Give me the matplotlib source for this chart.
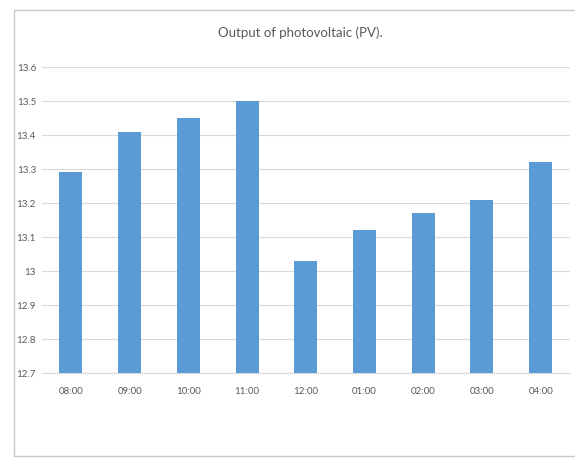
import matplotlib.pyplot as plt
from matplotlib.patches import Rectangle

# ---------------- PV output per hour ----------------
hours = ['08:00', '09:00', '10:00', '11:00', '12:00', '01:00', '02:00', '03:00', '04:00']
pv_output = [13.29, 13.41, 13.45, 13.50, 13.03, 13.12, 13.17, 13.21, 13.32]
y_ticks = [12.7, 12.8, 12.9, 13.0, 13.1, 13.2, 13.3, 13.4, 13.5, 13.6]
y_tick_labels = ['12.7', '12.8', '12.9', '13', '13.1', '13.2', '13.3', '13.4', '13.5', '13.6']

plt.rcParams['font.family'] = ['Lato', 'DejaVu Sans']

fig = plt.figure(figsize=(5.75, 4.59), dpi=100)
fig.patch.set_facecolor('white')

# chart frame
fig.patches.append(Rectangle((14 / 575, 1 - 456 / 459), 570 / 575, 446 / 459,
                             transform=fig.transFigure, fill=False,
                             edgecolor='#c8c8c8', linewidth=1.0))

ax = fig.add_axes([0.0723, 0.187, 0.919, 0.667])
x = range(len(hours))
ax.bar(x, pv_output, width=0.39, color='#5b9bd5', zorder=3)

ax.set_xlim(-0.5, len(hours) - 0.5)
ax.set_ylim(12.7, 13.6)
ax.set_yticks(y_ticks)
ax.set_yticklabels(y_tick_labels)
ax.set_xticks(list(x))
ax.set_xticklabels(hours)

ax.grid(axis='y', color='#d9d9d9', linewidth=0.8, zorder=0)
for s in ['top', 'right', 'left']:
    ax.spines[s].set_visible(False)
ax.spines['bottom'].set_color('#d9d9d9')
ax.tick_params(axis='both', length=0, colors='#595959', labelsize=7)
ax.tick_params(axis='x', pad=10)
ax.tick_params(axis='y', pad=4)

fig.text(0.522, 1 - 33 / 459, 'Output of photovoltaic (PV).', ha='center', va='center',
         fontsize=9.5, color='#595959')

plt.savefig('out.png', dpi=100)
